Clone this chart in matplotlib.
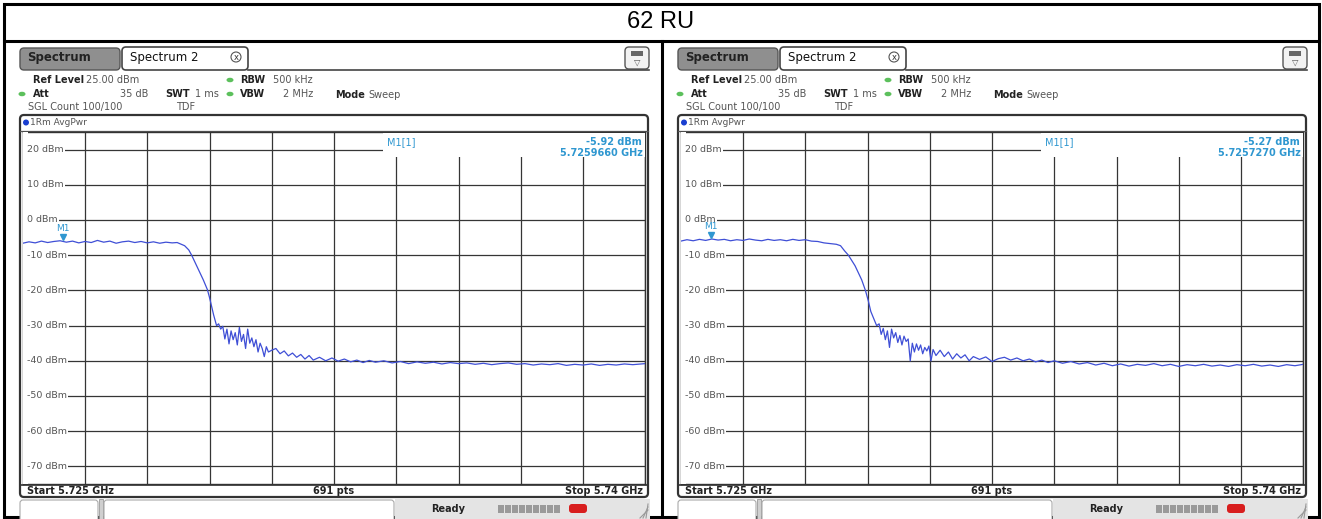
"""Two spectrum-analyzer screenshots side by side (62 RU band edge)."""

import numpy as np
import matplotlib
matplotlib.use("Agg")
import matplotlib.pyplot as plt
from matplotlib.patches import Rectangle, FancyBboxPatch, Circle, Ellipse
from matplotlib.transforms import offset_copy

TITLE = "62 RU"
FREQ_START_GHZ = 5.725
FREQ_STOP_GHZ = 5.74
REF_LEVEL_DBM = 25.0
Y_TICKS_DBM = [20, 10, 0, -10, -20, -30, -40, -50, -60, -70]

# trace: offset from start (MHz), level (dBm)
LEFT_OFFSET_MHZ = [
    0.00, 0.15, 0.30, 0.45, 0.60, 0.75, 0.90, 1.05, 1.20, 1.35, 1.50, 1.65, 1.80,
    1.95, 2.10, 2.25, 2.40, 2.55, 2.70, 2.85, 3.00, 3.15, 3.30, 3.45, 3.60, 3.72,
    3.80, 3.90, 4.00, 4.07, 4.15, 4.25, 4.35, 4.45, 4.50, 4.55, 4.60, 4.67,
    4.72, 4.77, 4.82, 4.87, 4.92, 4.97, 5.02, 5.07, 5.12, 5.17, 5.22, 5.27, 5.32,
    5.37, 5.42, 5.47, 5.52, 5.57, 5.62, 5.67, 5.72, 5.77, 5.82, 5.87, 5.92, 6.00,
    6.10, 6.20, 6.30, 6.40, 6.50, 6.60, 6.70, 6.80, 6.90, 7.00, 7.15, 7.30, 7.45,
    7.60, 7.75, 7.90, 8.05, 8.20, 8.35, 8.50, 8.70, 8.90, 9.10, 9.30, 9.50, 9.70,
    9.90, 10.10, 10.30, 10.50, 10.70, 10.90, 11.10, 11.30, 11.50, 11.70, 11.90,
    12.10, 12.30, 12.50, 12.70, 12.90, 13.10, 13.30, 13.50, 13.70, 13.90, 14.10,
    14.30, 14.50, 14.70, 15.00,
]
LEFT_DBM = [
    -6.6, -6.2, -6.5, -6.0, -6.4, -6.1, -5.9, -6.3, -6.0, -6.5, -6.1, -6.4, -5.8,
    -6.3, -6.0, -6.6, -6.2, -6.0, -6.4, -6.1, -6.5, -6.2, -6.6, -6.3, -6.5, -6.4,
    -6.8, -7.3, -8.5, -10.0, -12.0, -14.5, -17.0, -19.8, -22.0, -24.5, -27.0, -30.0,
    -29.5, -31.0, -30.2, -33.8, -31.0, -35.2, -31.5, -34.0, -32.0, -35.5, -30.5, -34.5,
    -32.5, -36.5, -31.0, -35.0, -33.5, -36.0, -34.0, -37.5, -35.0, -36.5, -38.8,
    -36.0, -37.5, -37.0, -36.5, -38.0, -37.2, -38.6, -37.8, -39.0, -38.2, -39.5,
    -38.5, -39.8, -39.0, -40.0, -39.2, -40.1, -39.5, -40.3, -39.8, -40.5, -39.9,
    -40.4, -40.0, -40.6, -40.2, -40.8, -40.3, -40.7, -40.4, -40.9, -40.5, -40.8,
    -40.6, -41.0, -40.7, -41.1, -40.8, -40.6, -41.0, -40.8, -41.2, -40.9, -41.1,
    -40.8, -41.3, -41.0, -41.2, -40.9, -41.3, -41.0, -41.2, -40.9, -41.1, -40.8,
]

# trace
RIGHT_OFFSET_MHZ = [
    0.00, 0.15, 0.30, 0.45, 0.60, 0.75, 0.90, 1.05, 1.20, 1.35, 1.50, 1.65, 1.80,
    1.95, 2.10, 2.25, 2.40, 2.55, 2.70, 2.85, 3.00, 3.15, 3.30, 3.45, 3.60, 3.75,
    3.85, 3.95, 4.04, 4.12, 4.20, 4.28, 4.36, 4.45, 4.52, 4.58, 4.65, 4.72,
    4.78, 4.83, 4.88, 4.93, 4.98, 5.03, 5.08, 5.13, 5.18, 5.23, 5.28, 5.33, 5.38,
    5.43, 5.48, 5.53, 5.58, 5.63, 5.68, 5.73, 5.78, 5.83, 5.88, 5.93, 5.98, 6.03,
    6.08, 6.15, 6.25, 6.35, 6.45, 6.55, 6.65, 6.75, 6.85, 6.95, 7.05, 7.20, 7.35,
    7.50, 7.65, 7.80, 7.95, 8.10, 8.25, 8.40, 8.55, 8.70, 8.85, 9.00, 9.20, 9.40,
    9.60, 9.80, 10.00, 10.20, 10.40, 10.60, 10.80, 11.00, 11.20, 11.40, 11.60,
    11.80, 12.00, 12.20, 12.40, 12.60, 12.80, 13.00, 13.20, 13.40, 13.60, 13.80,
    14.00, 14.20, 14.40, 14.60, 14.80, 15.00,
]
RIGHT_DBM = [
    -6.0, -5.6, -5.9, -5.5, -5.8, -5.4, -5.7, -5.5, -5.9, -5.6, -5.8, -5.4, -5.7,
    -5.9, -5.5, -5.8, -5.6, -5.9, -5.5, -5.8, -5.6, -6.0, -6.1, -6.5, -6.7, -6.9,
    -7.3, -8.8, -10.0, -11.5, -13.0, -15.0, -17.0, -20.0, -23.0, -26.0, -28.0, -30.0,
    -29.5, -32.5, -30.8, -34.0, -31.5, -36.2, -31.0, -33.5, -32.0, -34.8, -32.8,
    -35.5, -33.0, -34.5, -33.8, -40.0, -35.0, -37.5, -35.2, -37.0, -35.5, -38.0,
    -36.2, -37.2, -35.8, -40.0, -36.8, -38.5, -37.0, -38.8, -37.5, -39.5, -38.0,
    -39.2, -38.3, -40.0, -38.8, -39.6, -38.9, -40.2, -39.4, -39.0, -39.8, -39.2,
    -40.0, -39.5, -40.3, -39.8, -40.5, -40.0, -40.7, -40.2, -40.9, -40.5, -41.2,
    -40.7, -41.4, -40.9, -41.5, -41.0, -41.3, -40.8, -41.4, -41.0, -41.6, -41.1,
    -41.4, -41.0, -41.5, -41.2, -41.6, -41.1, -41.4, -41.0, -41.5, -41.2, -41.6,
    -41.1, -41.4, -41.0,
]

MARKER_FREQ_GHZ = [5.7259660, 5.7257270]
MARKER_DBM = [-5.92, -5.27]

W, H = 1322, 519
SCREEN_DX = 658          # right screen is the left one shifted by this many px
TRACE_BLUE = "#3f4fd6"
MARKER_BLUE = "#2f97d0"
GRID = "#353535"
FONT = "DejaVu Sans"

fig = plt.figure(figsize=(W / 100, H / 100), dpi=100)
bg = fig.add_axes([0, 0, 1, 1])
bg.set_xlim(0, W); bg.set_ylim(H, 0); bg.axis("off")


def txt(x, y, s, size=7, weight="normal", color="#555555", ha="left", **kw):
    bg.text(x, y, s, fontsize=size, fontweight=weight, color=color, ha=ha,
            va="center", family=FONT, **kw)


def draw_screen(ox, offs_mhz, levels, mk_f, mk_db):
    # tabs
    bg.add_patch(FancyBboxPatch((ox + 20, 48), 100, 22, boxstyle="round,pad=0,rounding_size=4",
                                fc="#8f8f8f", ec="#555555", lw=1))
    bg.add_patch(FancyBboxPatch((ox + 122, 47), 126, 23, boxstyle="round,pad=0,rounding_size=4",
                                fc="white", ec="#444444", lw=1.2))
    bg.plot([ox + 248, ox + 649], [70, 70], color="#444444", lw=1.2)
    txt(ox + 27, 58, "Spectrum", size=8.5, weight="bold", color="#222222")
    txt(ox + 130, 57.5, "Spectrum 2", size=8.5, color="#111111")
    bg.add_patch(Circle((ox + 236, 57), 5, fc="white", ec="#555555", lw=0.8))
    txt(ox + 236, 57, "x", size=6, color="#333333", ha="center")
    bg.add_patch(FancyBboxPatch((ox + 625, 47), 24, 22, boxstyle="round,pad=0,rounding_size=4",
                                fc="#f2f2f2", ec="#555555", lw=1))
    bg.add_patch(Rectangle((ox + 631, 51), 12, 5, fc="#666666", ec="none"))
    txt(ox + 637, 62, "▽", size=6, color="#555555", ha="center")

    # settings block
    for gx, gy in [(230, 80), (22, 94), (230, 94)]:
        bg.add_patch(Ellipse((ox + gx, gy), 7, 4.5, fc="#5cc05c", ec="none"))
    txt(ox + 33, 80, "Ref Level", weight="bold", color="#222222")
    txt(ox + 86, 80, "25.00 dBm")
    txt(ox + 240, 80, "RBW", weight="bold", color="#222222")
    txt(ox + 273, 80, "500 kHz")
    txt(ox + 33, 94, "Att", weight="bold", color="#222222")
    txt(ox + 148, 94, "35 dB", ha="right")
    txt(ox + 165, 94, "SWT", weight="bold", color="#222222")
    txt(ox + 195, 94, "1 ms")
    txt(ox + 240, 94, "VBW", weight="bold", color="#222222")
    txt(ox + 283, 94, "2 MHz")
    txt(ox + 335, 95, "Mode", weight="bold", color="#222222")
    txt(ox + 368, 95, "Sweep")
    txt(ox + 28, 107, "SGL Count 100/100")
    txt(ox + 176, 107, "TDF")

    # trace window frame
    bg.add_patch(FancyBboxPatch((ox + 20, 115), 628, 382, boxstyle="round,pad=0,rounding_size=4",
                                fc="white", ec="#333333", lw=1.6))
    bg.plot([ox + 20, ox + 648], [131, 131], color="#555555", lw=0.9)
    bg.add_patch(Circle((ox + 26, 122.5), 3, fc="#1a3fd0", ec="none"))
    txt(ox + 30, 122.5, "1Rm AvgPwr", size=6.5)
    bg.plot([ox + 20, ox + 648], [484.5, 484.5], color="#333333", lw=1.2)
    txt(ox + 27, 490.5, "Start 5.725 GHz", weight="bold", color="#222222")
    txt(ox + 334, 490.5, "691 pts", weight="bold", color="#222222", ha="center")
    txt(ox + 643, 490.5, "Stop 5.74 GHz", weight="bold", color="#222222", ha="right")

    # status bar
    bg.add_patch(Rectangle((ox + 395, 499), 255, 20, fc="#e4e4e4", ec="none"))
    bg.add_patch(FancyBboxPatch((ox + 20, 500), 78, 22, boxstyle="round,pad=0,rounding_size=3",
                                fc="white", ec="#aaaaaa", lw=0.8))
    bg.add_patch(Rectangle((ox + 99, 499), 4, 20, fc="#cfcfcf", ec="#999999", lw=0.6))
    bg.add_patch(FancyBboxPatch((ox + 104, 500), 290, 22, boxstyle="round,pad=0,rounding_size=3",
                                fc="white", ec="#aaaaaa", lw=0.8))
    txt(ox + 448, 509.5, "Ready", weight="bold", color="#222222", ha="center")
    for k in range(9):
        bg.add_patch(Rectangle((ox + 498 + k * 7, 505), 6, 8, fc="#9a9a9a", ec="none"))
    bg.add_patch(FancyBboxPatch((ox + 569, 504), 18, 9, boxstyle="round,pad=0,rounding_size=3",
                                fc="#d81e1e", ec="none"))
    for k in range(3):
        bg.plot([ox + 640 + k * 3, ox + 648], [518, 510 - k * 3], color="#999999", lw=0.8)

    # the plot itself
    x0, x1, y0, y1 = ox + 22.75, ox + 645.25, 132, 484
    ax = fig.add_axes([x0 / W, 1 - y1 / H, (x1 - x0) / W, (y1 - y0) / H])
    ax.set_xlim(FREQ_START_GHZ, FREQ_STOP_GHZ)
    ax.set_ylim(REF_LEVEL_DBM - 100, REF_LEVEL_DBM)
    ax.set_xticks(np.linspace(FREQ_START_GHZ, FREQ_STOP_GHZ, 11))
    ax.set_yticks(Y_TICKS_DBM)
    ax.grid(True, color=GRID, lw=0.9)
    ax.tick_params(length=0, labelbottom=False, labelleft=False)
    for s in ax.spines.values():
        s.set_color("#333333"); s.set_linewidth(1.0)
    ax.axvspan(FREQ_START_GHZ, FREQ_START_GHZ + 0.00012, color="white", zorder=3, lw=0)
    for lvl in Y_TICKS_DBM:
        ax.text(FREQ_START_GHZ + 0.00011, lvl, f"{lvl} dBm", fontsize=6.8, color="#555555",
                family=FONT, va="center", ha="left", zorder=4,
                bbox=dict(fc="white", ec="none", pad=0.8))
    freqs = FREQ_START_GHZ + np.array(offs_mhz) / 1000.0
    ax.plot(freqs, levels, color=TRACE_BLUE, lw=0.9, zorder=5)
    tri = offset_copy(ax.transData, fig=fig, x=0, y=4, units="dots")
    ax.plot([mk_f], [mk_db], marker="v", ms=5, color=MARKER_BLUE, transform=tri, zorder=6)
    lab = offset_copy(ax.transData, fig=fig, x=0, y=12, units="dots")
    ax.text(mk_f, mk_db, "M1", transform=lab, fontsize=6.5, color=MARKER_BLUE,
            family=FONT, ha="center", va="center", zorder=6)

    # marker readout (covers the grid in its corner)
    over = fig.add_axes([(ox + 383) / W, 1 - 157 / H, 262 / W, 24.5 / H])
    over.set_xlim(0, 262); over.set_ylim(25, 0); over.axis("off")
    over.add_patch(Rectangle((0, 0), 262, 25, fc="white", ec="none"))
    over.text(4, 10, "M1[1]", fontsize=7, color=MARKER_BLUE, family=FONT, va="center")
    over.text(259, 10, f"{mk_db:.2f} dBm", fontsize=7, color=MARKER_BLUE, family=FONT,
              va="center", ha="right", fontweight="bold")
    over.text(260, 21, f"{mk_f:.7f} GHz", fontsize=7, color=MARKER_BLUE, family=FONT,
              va="center", ha="right", fontweight="bold")


# table frame around the two screenshots
bg.add_patch(Rectangle((3.5, 3.5), W - 7, H - 6, fc="none", ec="black", lw=2.2))
bg.plot([3.5, W - 3.5], [41, 41], color="black", lw=2.2)
bg.plot([662, 662], [41, H], color="black", lw=2.2)
bg.text(661, 22, TITLE, fontsize=17, family="Liberation Sans", ha="center", va="center")

draw_screen(0, LEFT_OFFSET_MHZ, LEFT_DBM, MARKER_FREQ_GHZ[0], MARKER_DBM[0])
draw_screen(SCREEN_DX, RIGHT_OFFSET_MHZ, RIGHT_DBM, MARKER_FREQ_GHZ[1], MARKER_DBM[1])

fig.savefig("out.png", dpi=100)
